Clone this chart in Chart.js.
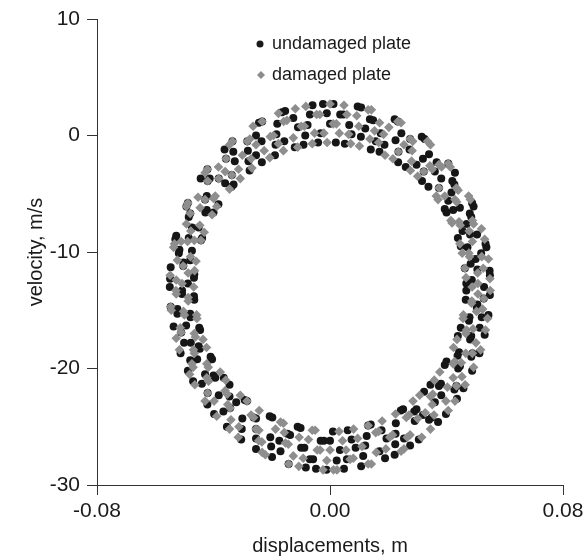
<!DOCTYPE html>
<html>
<head>
<meta charset="utf-8">
<script src="https://cdn.jsdelivr.net/npm/chart.js@4.4.0/dist/chart.umd.min.js"></script>
<style>
  body { margin: 0; background: #fff; }
</style>
</head>
<body>
<canvas id="ringChart" width="584" height="560"></canvas>
<script>
// displacement (m) / velocity (m/s)
var undamagedX = [
  0.0529, 0.0487, 0.0548, 0.0463, 0.0500, 0.0537, 0.0472, 0.0505, 0.0439, 0.0469, 0.0480, 0.0488,
  0.0423, 0.0394, 0.0417, 0.0420, 0.0374, 0.0406, 0.0360, 0.0316, 0.0340, 0.0297, 0.0315, 0.0273,
  0.0234, 0.0245, 0.0233, 0.0187, 0.0174, 0.0140, 0.0137, 0.0106, 0.0095, 0.0066, 0.0046, 0.0020,
  0.0000, -0.0024, -0.0041, -0.0069, -0.0085, -0.0110, -0.0121, -0.0165, -0.0181, -0.0187, -0.0233, -0.0235,
  -0.0234, -0.0284, -0.0280, -0.0335, -0.0327, -0.0357, -0.0331, -0.0360, -0.0421, -0.0420, -0.0383, -0.0429,
  -0.0423, -0.0488, -0.0480, -0.0451, -0.0439, -0.0485, -0.0531, -0.0517, -0.0480, -0.0504, -0.0466, -0.0549,
  -0.0550, -0.0508, -0.0466, -0.0524, -0.0480, -0.0537, -0.0511, -0.0446, -0.0478, -0.0451, -0.0480, -0.0488,
  -0.0405, -0.0429, -0.0400, -0.0420, -0.0421, -0.0345, -0.0345, -0.0343, -0.0354, -0.0285, -0.0303, -0.0262,
  -0.0254, -0.0254, -0.0198, -0.0202, -0.0174, -0.0146, -0.0142, -0.0101, -0.0088, -0.0069, -0.0048, -0.0021,
  0.0000, 0.0023, 0.0048, 0.0061, 0.0088, 0.0114, 0.0126, 0.0140, 0.0189, 0.0194, 0.0224, 0.0226,
  0.0275, 0.0251, 0.0291, 0.0297, 0.0340, 0.0371, 0.0360, 0.0345, 0.0374, 0.0436, 0.0434, 0.0394,
  0.0440, 0.0488, 0.0443, 0.0489, 0.0439, 0.0485, 0.0531, 0.0477, 0.0521, 0.0504, 0.0466, 0.0549,
  0.0468, 0.0549, 0.0506, 0.0483, 0.0519, 0.0534, 0.0449, 0.0481, 0.0455, 0.0485, 0.0493, 0.0446,
  0.0400, 0.0406, 0.0427, 0.0429, 0.0382, 0.0338, 0.0366, 0.0322, 0.0319, 0.0325, 0.0260, 0.0275,
  0.0235, 0.0225, 0.0222, 0.0170, 0.0157, 0.0148, 0.0121, 0.0107, 0.0074, 0.0051, 0.0035, 0.0012,
  -0.0011, -0.0032, -0.0060, -0.0077, -0.0091, -0.0126, -0.0154, -0.0157, -0.0184, -0.0189, -0.0244, -0.0254,
  -0.0254, -0.0282, -0.0276, -0.0332, -0.0362, -0.0337, -0.0338, -0.0382, -0.0413, -0.0444, -0.0423, -0.0400,
  -0.0428, -0.0493, -0.0485, -0.0474, -0.0443, -0.0528, -0.0474, -0.0519, -0.0503, -0.0547, -0.0467, -0.0488,
  -0.0508, -0.0467, -0.0547, -0.0524, -0.0479, -0.0494, -0.0449, -0.0501, -0.0513, -0.0447, -0.0456, -0.0410,
  -0.0470, -0.0440, -0.0394, -0.0365, -0.0382, -0.0398, -0.0366, -0.0322, -0.0293, -0.0301, -0.0305, -0.0254,
  -0.0254, -0.0207, -0.0205, -0.0199, -0.0170, -0.0137, -0.0111, -0.0099, -0.0083, -0.0058, -0.0032, -0.0012,
  0.0010, 0.0034, 0.0058, 0.0074, 0.0107, 0.0121, 0.0131, 0.0170, 0.0177, 0.0222, 0.0225, 0.0254,
  0.0243, 0.0305, 0.0289, 0.0319, 0.0349, 0.0323, 0.0398, 0.0382, 0.0381, 0.0427, 0.0458, 0.0400,
  0.0446, 0.0438, 0.0485, 0.0513, 0.0481, 0.0449, 0.0514, 0.0479, 0.0544, 0.0506, 0.0528, 0.0468
];
var undamagedY = [
  -13.0, -12.4, -11.6, -11.4, -10.6, -9.6, -9.6, -8.5, -8.8, -7.6, -6.7, -5.8,
  -6.4, -6.3, -4.9, -3.9, -4.5, -2.4, -3.1, -3.9, -1.6, -2.5, -0.1, -1.2,
  -2.3, 0.2, 1.2, -0.8, 0.2, -1.2, 1.4, -0.1, 2.5, 0.9, 1.8, -0.6,
  1.0, 2.7, -0.6, 1.8, 0.0, 0.7, -1.0, 2.0, 1.0, -0.8, 1.2, -0.5,
  -2.3, -0.5, -2.2, -0.5, -2.2, -2.0, -4.2, -4.1, -2.9, -3.9, -5.9, -5.5,
  -6.4, -5.8, -6.7, -7.9, -8.8, -8.8, -8.9, -9.8, -10.7, -11.2, -11.9, -12.3,
  -13.0, -13.6, -14.1, -14.9, -15.3, -16.4, -16.9, -16.7, -17.8, -18.1, -19.3, -20.2,
  -19.2, -20.5, -20.6, -22.1, -23.1, -21.4, -22.4, -23.4, -25.0, -22.8, -25.2, -24.2,
  -25.2, -26.9, -24.2, -26.7, -26.2, -25.6, -28.2, -25.1, -26.8, -27.8, -28.6, -26.2,
  -26.2, -27.9, -28.6, -25.3, -26.8, -27.5, -25.8, -24.8, -27.7, -26.0, -26.5, -24.7,
  -26.6, -23.5, -24.5, -23.5, -24.4, -24.6, -22.9, -21.4, -21.5, -22.6, -21.5, -19.7,
  -20.0, -20.2, -18.6, -18.7, -17.2, -17.2, -17.1, -15.9, -15.6, -14.8, -14.1, -13.7,
  -12.7, -12.0, -11.5, -11.0, -10.1, -9.3, -9.5, -8.5, -8.2, -7.0, -6.1, -6.2,
  -6.6, -5.6, -4.2, -3.2, -3.7, -4.4, -2.3, -3.1, -2.0, -0.3, -2.7, -0.3,
  -1.4, -0.4, 1.4, -1.4, -0.5, 1.3, 0.6, 2.4, 0.1, -0.7, 1.8, 2.7,
  1.9, 0.2, 2.6, 0.9, -0.8, 1.5, 2.1, -0.5, 0.1, -1.7, 1.1, 0.0,
  -1.7, -1.3, -3.0, -1.4, -1.2, -3.4, -4.4, -3.7, -3.7, -3.7, -5.2, -6.6,
  -6.6, -6.1, -7.0, -7.9, -9.0, -8.6, -9.9, -10.1, -10.9, -11.3, -12.2, -12.7,
  -13.3, -13.8, -14.7, -15.3, -15.6, -16.3, -16.5, -17.8, -18.7, -18.3, -19.2, -19.0,
  -21.1, -21.3, -20.8, -20.8, -22.3, -23.9, -23.7, -22.9, -22.7, -24.3, -26.1, -24.3,
  -26.0, -24.1, -25.9, -27.6, -27.1, -25.7, -25.0, -26.8, -28.5, -27.8, -26.2, -28.7,
  -25.4, -27.0, -27.8, -26.1, -28.4, -26.6, -24.9, -27.1, -25.3, -27.4, -25.6, -26.0,
  -23.6, -26.1, -23.7, -24.0, -24.2, -22.0, -23.9, -22.3, -21.3, -21.8, -21.7, -19.4,
  -19.8, -18.9, -19.0, -18.7, -17.5, -16.5, -16.5, -15.6, -15.4, -14.5, -14.0, -13.3
];
var damagedX = [
  0.0508, 0.0467, 0.0526, 0.0544, 0.0479, 0.0454, 0.0489, 0.0520, 0.0493, 0.0447, 0.0419, 0.0482,
  0.0435, 0.0440, 0.0394, 0.0365, 0.0413, 0.0383, 0.0351, 0.0322, 0.0345, 0.0276, 0.0282, 0.0275,
  0.0235, 0.0244, 0.0189, 0.0184, 0.0170, 0.0137, 0.0131, 0.0099, 0.0071, 0.0058, 0.0032, 0.0011,
  -0.0010, -0.0035, -0.0053, -0.0083, -0.0099, -0.0111, -0.0148, -0.0177, -0.0177, -0.0205, -0.0207, -0.0264,
  -0.0275, -0.0271, -0.0301, -0.0345, -0.0308, -0.0337, -0.0383, -0.0382, -0.0429, -0.0394, -0.0389, -0.0453,
  -0.0446, -0.0493, -0.0447, -0.0493, -0.0443, -0.0489, -0.0534, -0.0479, -0.0524, -0.0465, -0.0549, -0.0508,
  -0.0529, -0.0487, -0.0547, -0.0503, -0.0458, -0.0514, -0.0528, -0.0462, -0.0436, -0.0466, -0.0474, -0.0482,
  -0.0418, -0.0423, -0.0377, -0.0429, -0.0398, -0.0353, -0.0351, -0.0308, -0.0345, -0.0313, -0.0271, -0.0243,
  -0.0244, -0.0234, -0.0222, -0.0170, -0.0157, -0.0143, -0.0126, -0.0107, -0.0074, -0.0051, -0.0034, -0.0011,
  0.0012, 0.0031, 0.0055, 0.0080, 0.0095, 0.0131, 0.0131, 0.0157, 0.0192, 0.0205, 0.0244, 0.0225,
  0.0275, 0.0271, 0.0301, 0.0345, 0.0308, 0.0351, 0.0353, 0.0398, 0.0429, 0.0377, 0.0423, 0.0453,
  0.0428, 0.0493, 0.0466, 0.0436, 0.0501, 0.0469, 0.0534, 0.0458, 0.0503, 0.0486, 0.0528, 0.0550,
  0.0488, 0.0549, 0.0507, 0.0463, 0.0521, 0.0477, 0.0531, 0.0446, 0.0478, 0.0489, 0.0443, 0.0415,
  0.0476, 0.0429, 0.0434, 0.0371, 0.0374, 0.0406, 0.0374, 0.0343, 0.0301, 0.0335, 0.0280, 0.0284,
  0.0254, 0.0216, 0.0233, 0.0202, 0.0167, 0.0153, 0.0142, 0.0101, 0.0092, 0.0064, 0.0048, 0.0022,
  0.0000, -0.0021, -0.0046, -0.0061, -0.0088, -0.0119, -0.0126, -0.0159, -0.0160, -0.0194, -0.0233, -0.0226,
  -0.0254, -0.0284, -0.0268, -0.0335, -0.0314, -0.0357, -0.0360, -0.0345, -0.0421, -0.0420, -0.0400, -0.0429,
  -0.0405, -0.0488, -0.0480, -0.0432, -0.0478, -0.0466, -0.0511, -0.0537, -0.0460, -0.0504, -0.0487, -0.0528,
  -0.0468, -0.0528, -0.0487, -0.0545, -0.0500, -0.0457, -0.0511, -0.0466, -0.0517, -0.0469, -0.0424, -0.0470,
  -0.0423, -0.0464, -0.0417, -0.0420, -0.0358, -0.0360, -0.0389, -0.0343, -0.0340, -0.0285, -0.0315, -0.0262,
  -0.0254, -0.0245, -0.0233, -0.0187, -0.0160, -0.0153, -0.0142, -0.0106, -0.0092, -0.0061, -0.0044, -0.0024,
  0.0000, 0.0024, 0.0043, 0.0069, 0.0081, 0.0110, 0.0142, 0.0159, 0.0167, 0.0179, 0.0215, 0.0254,
  0.0265, 0.0262, 0.0315, 0.0285, 0.0327, 0.0357, 0.0345, 0.0406, 0.0358, 0.0403, 0.0434, 0.0464,
  0.0423, 0.0451, 0.0424, 0.0489, 0.0517, 0.0466, 0.0491, 0.0457, 0.0541, 0.0524, 0.0487, 0.0508
];
var damagedY = [
  -12.7, -12.2, -11.4, -10.6, -10.4, -10.1, -9.1, -8.0, -7.6, -7.7, -7.5, -5.5,
  -5.7, -4.7, -5.2, -5.2, -2.7, -2.7, -2.9, -3.1, -0.8, -3.0, -1.3, -0.3,
  -1.4, 1.1, -1.7, 0.1, 1.1, -0.3, 2.2, 0.8, -0.7, 1.8, 0.2, 1.0,
  -0.6, 1.8, 0.2, 2.5, 0.8, -1.0, 1.3, 1.9, -0.7, -0.1, -1.9, 0.8,
  -0.3, -2.0, -1.7, -0.8, -3.7, -3.4, -2.7, -3.7, -3.2, -5.2, -6.1, -5.3,
  -6.2, -6.1, -7.7, -7.6, -9.0, -9.1, -9.3, -10.4, -10.7, -11.6, -12.0, -12.7,
  -13.3, -13.9, -14.7, -15.1, -15.4, -16.5, -17.4, -17.3, -17.5, -18.7, -19.6, -20.5,
  -19.9, -20.8, -20.3, -22.8, -22.8, -22.2, -23.1, -22.3, -25.2, -25.0, -24.0, -23.6,
  -25.3, -26.3, -27.4, -24.6, -25.5, -26.5, -27.5, -28.4, -26.1, -25.3, -27.0, -27.9,
  -28.7, -25.4, -27.0, -27.7, -26.0, -28.2, -24.9, -25.5, -26.9, -25.9, -27.1, -23.9,
  -25.7, -24.0, -24.3, -25.2, -22.3, -23.1, -22.2, -22.8, -22.8, -20.3, -20.8, -20.7,
  -19.4, -19.9, -18.7, -17.5, -17.8, -16.7, -16.7, -15.4, -15.1, -14.4, -14.0, -13.3,
  -13.0, -12.3, -11.8, -11.4, -10.4, -10.1, -8.9, -9.3, -8.2, -7.3, -7.4, -7.3,
  -5.2, -5.5, -4.5, -5.5, -4.5, -2.4, -2.5, -2.6, -3.5, -0.5, -2.2, -0.5,
  -0.8, -2.0, 1.2, 0.7, -0.6, 0.4, 2.2, -0.9, 1.7, 0.1, 2.6, 1.0,
  2.7, 0.2, 1.8, -0.7, 0.8, 2.3, -0.2, 1.2, -1.3, 0.0, 1.2, -1.3,
  -0.8, -0.5, -2.8, -0.5, -2.9, -2.0, -3.1, -4.6, -2.9, -3.9, -5.4, -5.5,
  -6.8, -5.8, -6.7, -8.3, -8.2, -9.0, -9.1, -9.6, -10.8, -11.2, -11.8, -12.4,
  -13.0, -13.6, -14.2, -15.0, -15.4, -15.7, -16.9, -17.0, -18.4, -18.4, -18.2, -19.9,
  -19.6, -21.4, -21.1, -22.1, -21.0, -21.9, -24.1, -23.4, -24.4, -22.8, -25.9, -24.2,
  -25.2, -26.2, -27.2, -25.2, -24.7, -26.4, -28.2, -25.9, -27.7, -25.3, -27.0, -28.7,
  -27.0, -28.7, -26.2, -27.8, -25.2, -26.7, -28.2, -27.2, -25.4, -24.5, -25.7, -26.9,
  -25.9, -24.2, -25.9, -22.8, -23.8, -24.0, -22.4, -23.6, -21.0, -21.6, -21.5, -21.4,
  -19.6, -19.5, -18.2, -18.7, -18.4, -17.0, -16.6, -15.7, -15.7, -14.9, -14.2, -13.6
];
var seriesNames = ["undamaged plate", "damaged plate"];
var xTicks = [-0.08, 0.0, 0.08];
var yTicks = [-30, -20, -10, 0, 10];

var fontFamily = '"Liberation Sans", Arial, Helvetica, sans-serif';
var ink = "#1a1a1a";

function toPoints(xs, ys) {
  var pts = [];
  for (var i = 0; i < xs.length; i++) {
    pts.push({ x: xs[i], y: ys[i] });
  }
  return pts;
}

// legend sits inside the plot area, drawn by hand
var plateLegend = {
  id: "plateLegend",
  afterDraw: function (chart) {
    var ctx = chart.ctx;
    ctx.save();
    ctx.font = "18px " + fontFamily;
    ctx.textBaseline = "middle";
    ctx.textAlign = "left";

    ctx.fillStyle = ink;
    ctx.beginPath();
    ctx.arc(260, 44, 3.5, 0, Math.PI * 2);
    ctx.fill();
    ctx.fillText(seriesNames[0], 272, 44);

    ctx.fillStyle = "#8c8c8c";
    ctx.beginPath();
    ctx.moveTo(261 - 4, 75);
    ctx.lineTo(261, 75 - 4);
    ctx.lineTo(261 + 4, 75);
    ctx.lineTo(261, 75 + 4);
    ctx.closePath();
    ctx.fill();
    ctx.fillStyle = ink;
    ctx.fillText(seriesNames[1], 272, 75);
    ctx.restore();
  }
};

var ctx = document.getElementById("ringChart").getContext("2d");

var chart = new Chart(ctx, {
  type: "scatter",
  data: {
    datasets: [
      {
        label: seriesNames[0],
        data: toPoints(undamagedX, undamagedY),
        pointStyle: "circle",
        pointRadius: 4,
        pointBackgroundColor: "#161616",
        pointBorderWidth: 0,
        order: 1
      },
      {
        label: seriesNames[1],
        data: toPoints(damagedX, damagedY),
        pointStyle: "rectRot",
        pointRadius: 4.8,
        pointBackgroundColor: "#8e8e8e",
        pointBorderWidth: 0,
        order: 0
      }
    ]
  },
  options: {
    responsive: false,
    animation: false,
    layout: { padding: { left: 0, right: 21, top: 19, bottom: 0 } },
    plugins: {
      legend: { display: false },
      tooltip: { enabled: false }
    },
    scales: {
      x: {
        type: "linear",
        min: xTicks[0],
        max: xTicks[xTicks.length - 1],
        afterBuildTicks: function (scale) {
          scale.ticks = xTicks.map(function (v) { return { value: v }; });
        },
        afterFit: function (scale) {
          scale.height = 75;
          scale.paddingLeft = 0;
          scale.paddingRight = 0;
        },
        grid: { drawOnChartArea: false, drawTicks: true, tickLength: 10, color: "#333" },
        border: { display: true, color: "#333", width: 1 },
        ticks: {
          padding: 4,
          color: ink,
          font: { family: fontFamily, size: 21 },
          maxRotation: 0,
          autoSkip: false,
          callback: function (v) {
            if (Math.abs(v) < 1e-9) return "0.00";
            return v.toFixed(2);
          }
        },
        title: {
          display: true,
          text: "displacements, m",
          color: ink,
          font: { family: fontFamily, size: 20 },
          padding: { top: 0, bottom: 2 }
        }
      },
      y: {
        type: "linear",
        min: yTicks[0],
        max: yTicks[yTicks.length - 1],
        afterBuildTicks: function (scale) {
          scale.ticks = yTicks.map(function (v) { return { value: v }; });
        },
        afterFit: function (scale) {
          scale.width = 97;
          scale.paddingTop = 0;
          scale.paddingBottom = 0;
        },
        grid: { drawOnChartArea: false, drawTicks: true, tickLength: 10, color: "#333" },
        border: { display: true, color: "#333", width: 1 },
        ticks: {
          padding: 7,
          color: ink,
          font: { family: fontFamily, size: 21 },
          autoSkip: false,
          callback: function (v) { return String(v); }
        },
        title: {
          display: true,
          text: "velocity, m/s",
          color: ink,
          font: { family: fontFamily, size: 20 },
          padding: { top: 24, bottom: 0 }
        }
      }
    }
  },
  plugins: [plateLegend]
});
</script>
</body>
</html>
